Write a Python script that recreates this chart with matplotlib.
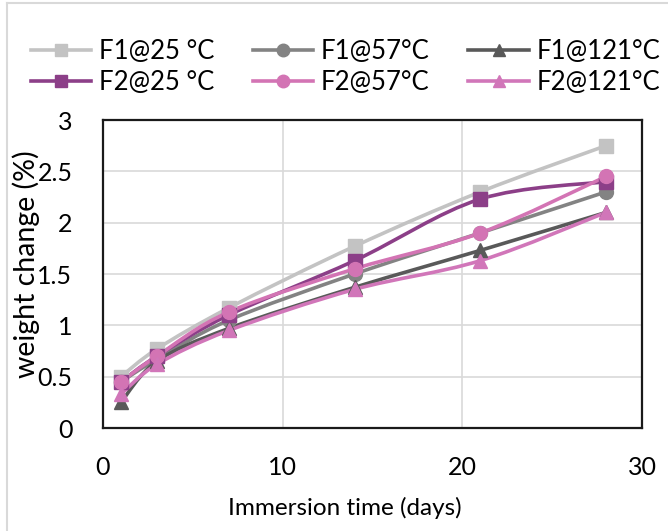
import numpy as np
import matplotlib
matplotlib.use("Agg")
import matplotlib.pyplot as plt
from matplotlib.path import Path
from matplotlib.patches import PathPatch
from matplotlib.lines import Line2D

plt.rcParams['font.family'] = ['Lato', 'DejaVu Sans']

# Immersion times (days) and weight change (%) per formulation / temperature
days = [1, 3, 7, 14, 21, 28]
f1_25 = [0.50, 0.77, 1.17, 1.77, 2.30, 2.75]
f1_57 = [0.45, 0.67, 1.05, 1.50, 1.90, 2.30]
f1_121 = [0.25, 0.65, 0.97, 1.37, 1.73, 2.10]
f2_25 = [0.45, 0.70, 1.10, 1.63, 2.23, 2.40]
f2_57 = [0.45, 0.70, 1.13, 1.55, 1.90, 2.45]
f2_121 = [0.33, 0.62, 0.95, 1.35, 1.63, 2.10]

labels = ["F1@25 °C", "F1@57°C", "F1@121°C", "F2@25 °C", "F2@57°C", "F2@121°C"]
series = [f1_25, f1_57, f1_121, f2_25, f2_57, f2_121]
colors = ["#C3C3C3", "#838383", "#595959", "#8C3F88", "#D374B4", "#D176B9"]
markers = ["s", "o", "^", "s", "o", "^"]


def smooth_path(x, y):
    """Cubic Bezier path through the points (Catmull-Rom style smoothing)."""
    pts = np.column_stack([x, y]).astype(float)
    n = len(pts)
    verts = [pts[0]]
    codes = [Path.MOVETO]
    for i in range(n - 1):
        p0 = pts[i - 1] if i > 0 else pts[i]
        p1 = pts[i]
        p2 = pts[i + 1]
        p3 = pts[i + 2] if i + 2 < n else pts[i + 1]
        c1 = p1 + (p2 - p0) / 6.0
        c2 = p2 - (p3 - p1) / 6.0
        verts += [c1, c2, p2]
        codes += [Path.CURVE4] * 3
    return Path(verts, codes)


fig = plt.figure(figsize=(6.68, 5.31), dpi=100)
ax = fig.add_axes([103 / 668, 1 - 428 / 531, 539 / 668, 308 / 531])

for vals, col, mk in zip(series, colors, markers):
    ax.add_patch(PathPatch(smooth_path(days, vals), fill=False,
                           edgecolor=col, lw=2.6, capstyle='round',
                           joinstyle='round', zorder=3))
    ax.plot(days, vals, ls='none', marker=mk, ms=10, color=col,
            mec=col, zorder=4)

ax.set_xlim(0, 30)
ax.set_ylim(0, 3)
ax.set_xticks([0, 10, 20, 30])
ax.set_yticks([0, 0.5, 1, 1.5, 2, 2.5, 3])
ax.set_yticklabels(["0", "0.5", "1", "1.5", "2", "2.5", "3"])
ax.grid(True, color="#D9D9D9", lw=1.2, zorder=0)
ax.set_axisbelow(True)
for sp in ax.spines.values():
    sp.set_color("#1A1A1A")
    sp.set_linewidth(1.6)
ax.tick_params(axis='both', length=0, labelsize=18, colors="#000000")
ax.tick_params(axis='y', pad=22)
ax.tick_params(axis='x', pad=20)

ax.set_xlabel("Immersion time (days)", fontsize=17.5)
ax.xaxis.set_label_coords((345 - 103) / 539, -(497 - 428) / 308)
ax.set_ylabel("weight change (%)", fontsize=20.5)
ax.yaxis.set_label_coords(-(103 - 40) / 539, (428 - 264) / 308)

# legend filled row by row (3 columns x 2 rows)
handles = [Line2D([], [], color=c, lw=2.6, marker=m, ms=9, mec=c)
           for c, m in zip(colors, markers)]
order = [0, 3, 1, 4, 2, 5]
fig.legend([handles[i] for i in order], [labels[i] for i in order],
           ncol=3, loc='center left',
           bbox_to_anchor=(31 / 668, 1 - 67 / 531), frameon=False,
           fontsize=18.5, handlelength=2.35, handletextpad=0.3,
           columnspacing=1.5, labelspacing=0.25, borderaxespad=0,
           borderpad=0)

# light frame around the chart area
fig.add_artist(Line2D([7 / 668, 7 / 668], [0, 1 - 3 / 531],
                      transform=fig.transFigure, color="#D9D9D9", lw=1.5))
fig.add_artist(Line2D([7 / 668, 1], [1 - 3 / 531, 1 - 3 / 531],
                      transform=fig.transFigure, color="#D9D9D9", lw=1.5))

fig.savefig("out.png", dpi=100)
